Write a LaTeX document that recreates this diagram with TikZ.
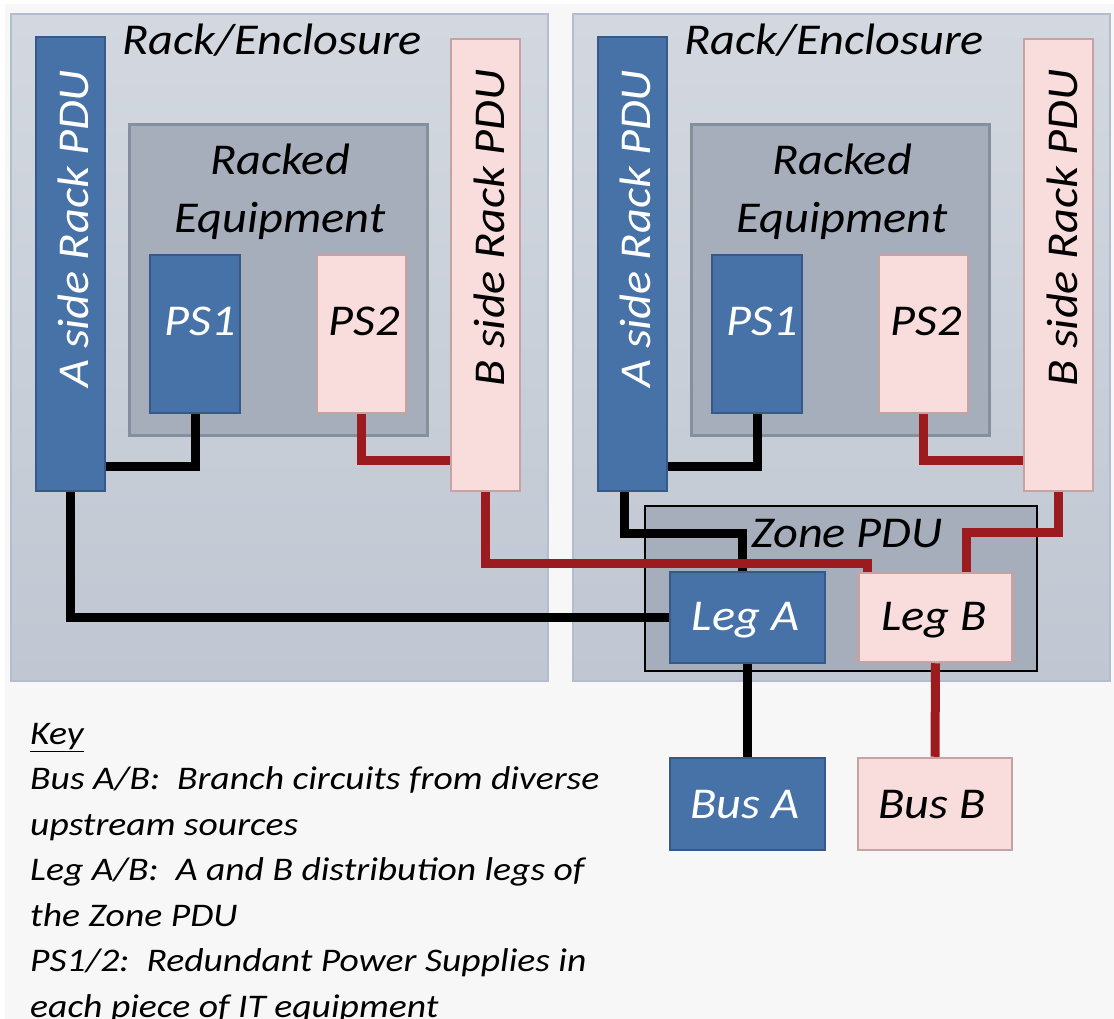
\documentclass[tikz,border=0pt]{standalone}
\usepackage{fontspec}
\setmainfont{Carlito}
\definecolor{paper}{HTML}{F7F7F7}
\definecolor{racktop}{HTML}{D3D8E0}
\definecolor{rackbottom}{HTML}{C0C7D2}
\definecolor{rackedge}{HTML}{B2BECE}
\definecolor{equipfill}{HTML}{A6AEBB}
\definecolor{equipedge}{HTML}{85909F}
\definecolor{pdublue}{HTML}{4672A8}
\definecolor{blueedge}{HTML}{36598A}
\definecolor{pdupink}{HTML}{F9DDDD}
\definecolor{pinkedge}{HTML}{C6A3A3}
\definecolor{wirered}{HTML}{9B1B1F}

\tikzset{
  rackbox/.style={draw=rackedge, line width=1.5pt, top color=racktop, bottom color=rackbottom, inner sep=0pt},
  equipbox/.style={draw=equipedge, line width=3pt, fill=equipfill, inner sep=0pt},
  zonebox/.style={draw=black, line width=1.2pt, fill=equipfill, inner sep=0pt},
  bluebox/.style={draw=blueedge, line width=2.5pt, fill=pdublue, inner sep=0pt},
  pinkbox/.style={draw=pinkedge, line width=2.5pt, fill=pdupink, inner sep=0pt},
  bigtext/.style={font=\fontsize{44}{48}\selectfont\itshape, inner sep=0pt, xscale=1.1},
  keytext/.style={font=\fontsize{33}{45.5}\selectfont\itshape, inner sep=0pt, align=left, xscale=1.14},
  wireA/.style={line width=9pt, black},
  wireB/.style={line width=9pt, wirered},
}

\begin{document}
\begin{tikzpicture}[x=1pt,y=-1pt]
  \useasboundingbox (0,0) rectangle (1114,1019);
  \fill[white] (0,0) rectangle (1114,1019);
  \fill[paper] (5,4) rectangle (1114,1019);

  % the two racks
  \foreach \rk/\dx/\bx in {L/0/485.5, R/562/496.5}{
    \begin{scope}[xshift=\dx pt]
      \node[rackbox, minimum width=537pt, minimum height=667pt] (rack\rk) at (279.5,347.5) {};
      \node[bigtext, anchor=base] (title\rk) at (272,55) {Rack/Enclosure};

      \node[equipbox, minimum width=298pt, minimum height=310pt] (equip\rk) at (278,280) {};
      \node[bigtext, anchor=base] (racked\rk) at (280,175) {Racked};
      \node[bigtext, anchor=base] (equiptext\rk) at (280,233) {Equipment};

      \node[bluebox, minimum width=90pt, minimum height=158pt] (psA\rk) at (195,334) {};
      \node[bigtext, white, anchor=base] (psAtext\rk) at (200,335) {PS1};
      \node[pinkbox, minimum width=89pt, minimum height=158pt] (psB\rk) at (361.5,334) {};
      \node[bigtext, anchor=base] (psBtext\rk) at (364,335) {PS2};

      \node[bluebox, minimum width=69pt, minimum height=454pt] (apdu\rk) at (70.5,264) {};
      \node[rotate=90, bigtext, white, anchor=base] (apdutext\rk) at (88,229) {A side Rack PDU};
      \node[pinkbox, minimum width=69pt, minimum height=452pt] (bpdu\rk) at (\bx,265) {};
      \node[rotate=90, bigtext, anchor=base] (bpdutext\rk) at (\bx+18.5,228) {B side Rack PDU};

      \draw[wireA] (psA\rk.south) |- ([yshift=26pt]apdu\rk.south east);
      \draw[wireB] (psB\rk.south) |- ([yshift=32pt]bpdu\rk.south west);
    \end{scope}
  }

  % zone PDU and buses
  \node[zonebox, minimum width=392pt, minimum height=165pt] (zone) at (841,588.5) {};
  \node[bigtext, anchor=base] (zonetext) at (847,547) {Zone PDU};

  \node[bluebox, minimum width=155pt, minimum height=91pt] (legA) at (747.5,617.5) {};
  \node[bigtext, white, anchor=base] (legAtext) at (745.5,630) {Leg A};
  \node[pinkbox, minimum width=154pt, minimum height=89pt] (legB) at (935.5,617.5) {};
  \node[bigtext, anchor=base] (legBtext) at (934,630) {Leg B};

  \node[bluebox, minimum width=155pt, minimum height=92pt] (busA) at (747.5,804) {};
  \node[bigtext, white, anchor=base] (busAtext) at (745,818) {Bus A};
  \node[pinkbox, minimum width=154pt, minimum height=92pt] (busB) at (935,804) {};
  \node[bigtext, anchor=base] (busBtext) at (932,818) {Bus B};

  % feeds
  \draw[wireA] (apduL.south) |- (legA.west);
  \draw[wireA] ([xshift=-8pt]apduR.south) -- ++(0,41) -| ([xshift=-5pt]legA.north);
  \draw[wireA] (legA.south) -- (busA.north);
  \draw[wireB] (bpduL.south) -- ++(0,71) -| ([xshift=10pt]legB.north west);
  \draw[wireB] (bpduR.south) -- ++(0,40) -| ([xshift=31pt]legB.north);
  \draw[wireB] (legB.south) -- (busB.north);

  % key
  \node[keytext, anchor=north west] (key) at (30,723) {\underline{Key}\\
    Bus A/B:\ \ Branch circuits from diverse\\
    upstream sources\\
    Leg A/B:\ \ A and B distribution legs of\\
    the Zone PDU\\
    PS1/2:\ \ Redundant Power Supplies in\\
    each piece of IT equipment};
\end{tikzpicture}
\end{document}
